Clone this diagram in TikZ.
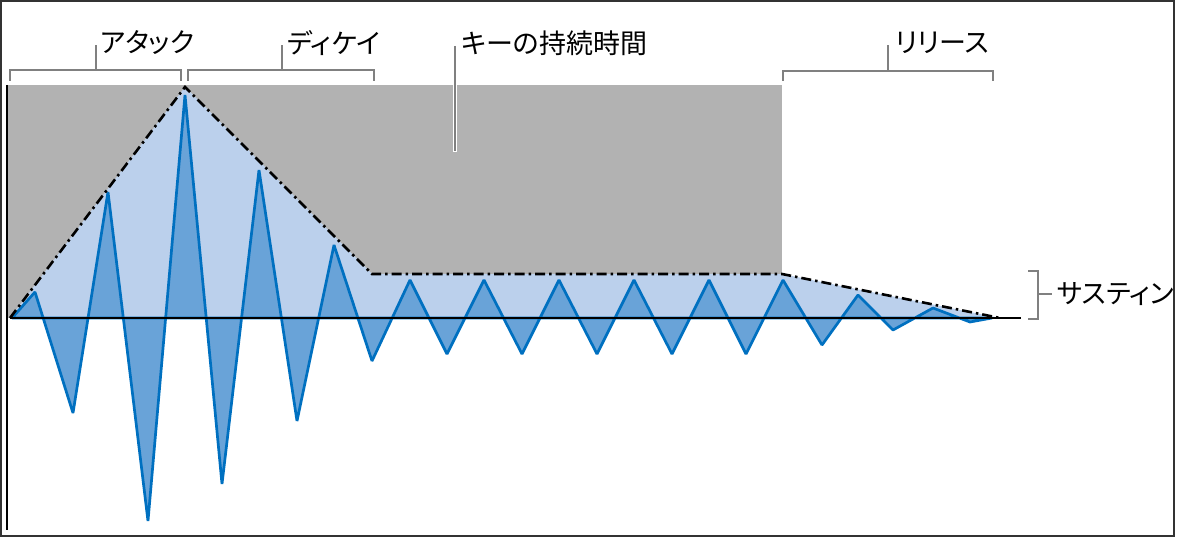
\documentclass[tikz,border=0pt]{standalone}
\usepackage{fontspec}
\newfontfamily\jpfont{Noto Sans CJK JP}[RawFeature=+palt]
\definecolor{keygray}{HTML}{B2B2B2}
\definecolor{envblue}{HTML}{BBD0EC}
\definecolor{wavefill}{HTML}{69A3D8}
\definecolor{wavestroke}{HTML}{0070C0}
\definecolor{brgray}{HTML}{808080}
\definecolor{frame}{HTML}{333333}
\tikzset{
  bracket/.style={draw=brgray, line width=2.5pt},
  label/.style={font=\jpfont\fontsize{27}{31}\selectfont, anchor=west, inner sep=0pt},
  envline/.style={draw=black, line width=2.6pt, dash pattern=on 10pt off 4pt on 2.5pt off 4pt, line join=miter},
  blackline/.style={draw=black, line width=2.5pt},
}
\begin{document}
\begin{tikzpicture}[x=1pt,y=-1pt]
\useasboundingbox (0,0) rectangle (1178,540);
\draw[frame, line width=2pt] (1,1) rectangle (1174,536);
% key duration area
\fill[keygray] (7,85) rectangle (782,318);
% envelope fill
\fill[envblue] (10,318) -- (185,87) -- (372,274) -- (782,274) -- (1000,318) -- cycle;
% wave
\filldraw[fill=wavefill, draw=wavestroke, line width=2.7pt, line join=bevel]
  (12,318) -- (35,292) -- (73,413) -- (108,192) -- (148,521) -- (185,95) -- (222,484)
  -- (259,170) -- (297,421) -- (334,245) -- (372,361) -- (410,280) -- (447,354)
  -- (484,280) -- (522,354) -- (559,280) -- (597,354) -- (634,280) -- (672,354)
  -- (709,280) -- (746,354) -- (783,280) -- (822,345) -- (858,295) -- (893,330)
  -- (933,308) -- (970,322) -- (992,318) -- cycle;
% baseline
\draw[blackline] (10,318) -- (1021,318);
% envelope outline
\draw[envline] (10,318) -- (185,87) -- (372,274) -- (782,274) -- (1000,318);
% axis
\draw[blackline] (7,85) -- (7,530);
% attack bracket
\draw[bracket] (10,81) -- (10,70) -- (181,70) -- (181,81);
\draw[bracket] (96,70) -- (96,45);
\node[label] (attack) at (100,43) {アタック};
% decay bracket
\draw[bracket] (188,81) -- (188,70) -- (374,70) -- (374,81);
\draw[bracket] (282,70) -- (282,45);
\node[label] (decay) at (287,43) {ディケイ};
% key duration
\draw[white, line width=4.5pt] (455,45) -- (455,152);
\draw[brgray, line width=2pt] (455,46) -- (455,151);
\node[label] (keydur) at (461,43) {キーの持続時間};
% release bracket
\draw[bracket] (783,81) -- (783,71) -- (993,71) -- (993,81);
\draw[bracket] (888,71) -- (888,45);
\node[label] (release) at (895,43) {リリース};
% sustain bracket
\draw[bracket] (1028,271) -- (1038,271) -- (1038,319) -- (1028,319);
\draw[bracket] (1038,294) -- (1052,294);
\node[label] (sustain) at (1057,294) {サスティン};
\end{tikzpicture}
\end{document}
